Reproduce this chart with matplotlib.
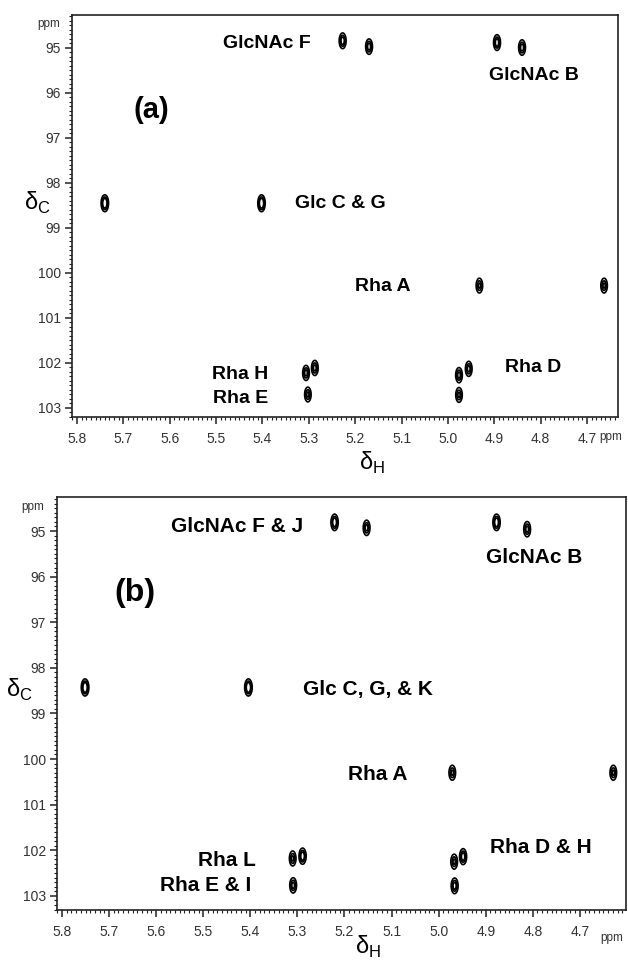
import numpy as np
import matplotlib
matplotlib.use('Agg')
import matplotlib.pyplot as plt
from matplotlib.ticker import MultipleLocator, FixedLocator

plt.rcParams['font.family'] = ['Liberation Sans', 'DejaVu Sans']
plt.rcParams['mathtext.fontset'] = 'custom'
plt.rcParams['mathtext.rm'] = 'Liberation Sans'

# HSQC cross peaks (1H ppm, 13C ppm, relative intensity)
h_a = [5.227, 5.170, 4.894, 4.840, 5.740, 5.402, 4.932, 4.663,
       5.306, 5.287, 5.302, 4.976, 4.955, 4.976]
c_a = [94.84, 94.97, 94.88, 94.99, 98.45, 98.45, 100.28, 100.28,
       102.22, 102.11, 102.70, 102.27, 102.13, 102.71]
i_a = [1.3, 1.2, 1.3, 1.2, 1.8, 1.8, 1.0, 1.0,
       1.1, 1.1, 1.0, 1.1, 1.1, 1.0]

h_b = [5.221, 5.153, 4.877, 4.812, 5.751, 5.404, 4.971, 4.629,
       5.310, 5.289, 5.309, 4.967, 4.948, 4.966]
c_b = [94.81, 94.93, 94.81, 94.96, 98.43, 98.43, 100.30, 100.30,
       102.18, 102.13, 102.77, 102.25, 102.14, 102.78]
i_b = [1.5, 1.1, 1.5, 1.1, 1.8, 1.8, 1.0, 1.0,
       1.0, 1.4, 1.1, 1.0, 1.3, 1.2]

h_ticks = [5.8, 5.7, 5.6, 5.5, 5.4, 5.3, 5.2, 5.1, 5.0, 4.9, 4.8, 4.7]
c_ticks = [95, 96, 97, 98, 99, 100, 101, 102, 103]

# peak labels: text, x, y, alignment
labels_a = [('GlcNAc F', 5.390, 94.89, 'center'),
            ('GlcNAc B', 4.815, 95.62, 'center'),
            ('Glc C & G', 5.330, 98.46, 'left'),
            ('Rha A', 5.140, 100.31, 'center'),
            ('Rha H', 5.388, 102.26, 'right'),
            ('Rha E', 5.388, 102.79, 'right'),
            ('Rha D', 4.877, 102.10, 'left')]
labels_b = [('GlcNAc F & J', 5.429, 94.89, 'center'),
            ('GlcNAc B', 4.796, 95.58, 'center'),
            ('Glc C, G, & K', 5.288, 98.48, 'left'),
            ('Rha A', 5.129, 100.34, 'center'),
            ('Rha L', 5.388, 102.22, 'right'),
            ('Rha E & I', 5.398, 102.77, 'right'),
            ('Rha D & H', 4.891, 101.93, 'left')]


def spectrum(ax, hs, cs, amps, xlim, ylim):
    x = np.arange(xlim[1], xlim[0], 0.0004)
    y = np.arange(ylim[0], ylim[1], 0.01)
    X, Y = np.meshgrid(x, y)
    Z = np.zeros_like(X)
    for h, c, a in zip(hs, cs, amps):
        Z += a * np.exp(-((X - h) ** 2 / (2 * 0.0036 ** 2) + (Y - c) ** 2 / (2 * 0.084 ** 2)))
    ax.contour(X, Y, Z, levels=[0.15, 0.45, 0.8], colors='black', linewidths=1.2)
    ax.set_xlim(*xlim)
    ax.set_ylim(ylim[1], ylim[0])


def style(ax):
    ax.xaxis.set_major_locator(FixedLocator(h_ticks))
    ax.xaxis.set_minor_locator(MultipleLocator(0.01))
    ax.yaxis.set_major_locator(FixedLocator(c_ticks))
    ax.yaxis.set_minor_locator(MultipleLocator(0.1))
    ax.xaxis.set_major_formatter(plt.FuncFormatter(lambda v, p: f'{v:.1f}'))
    ax.yaxis.set_major_formatter(plt.FuncFormatter(lambda v, p: f'{v:.0f}'))
    ax.tick_params(which='major', direction='out', length=5, width=1.1,
                   labelsize=10, labelcolor='#333333', color='#222222')
    ax.tick_params(axis='x', which='major', pad=6)
    ax.tick_params(axis='y', which='major', pad=3)
    ax.tick_params(which='minor', direction='out', length=2.5, width=0.8, color='#222222')
    for s in ax.spines.values():
        s.set_linewidth(1.2)
        s.set_color('#222222')


fig = plt.figure(figsize=(6.28, 9.6), dpi=100)

ax1 = fig.add_axes([72 / 628, 1 - 417 / 960, 546 / 628, 402 / 960])
spectrum(ax1, h_a, c_a, i_a, (5.8108, 4.633), (94.267, 103.2))
style(ax1)
for t, x, y, ha in labels_a:
    ax1.text(x, y, t, ha=ha, va='center', fontsize=14, fontweight='bold')
ax1.text(5.640, 96.38, '(a)', ha='center', va='center', fontsize=21, fontweight='bold')

ax2 = fig.add_axes([57 / 628, 1 - 910 / 960, 569 / 628, 413 / 960])
spectrum(ax2, h_b, c_b, i_b, (5.8106, 4.602), (94.254, 103.31))
style(ax2)
for t, x, y, ha in labels_b:
    ax2.text(x, y, t, ha=ha, va='center', fontsize=15, fontweight='bold')
ax2.text(5.645, 96.35, '(b)', ha='center', va='center', fontsize=23, fontweight='bold')

# axis titles and units
for px, py in [(37, 203), (19, 690)]:
    fig.text(px / 628, 1 - py / 960, r'δ$_{\mathrm{C}}$', ha='center', va='center', fontsize=17)
for px, py in [(372, 463), (368, 947)]:
    fig.text(px / 628, 1 - py / 960, r'δ$_{\mathrm{H}}$', ha='center', va='center', fontsize=17)
for px, py in [(49, 24), (33, 507), (611, 437), (612, 938)]:
    fig.text(px / 628, 1 - py / 960, 'ppm', ha='center', va='center', fontsize=8.5, color='#333333')

fig.savefig('out.png', dpi=100)
